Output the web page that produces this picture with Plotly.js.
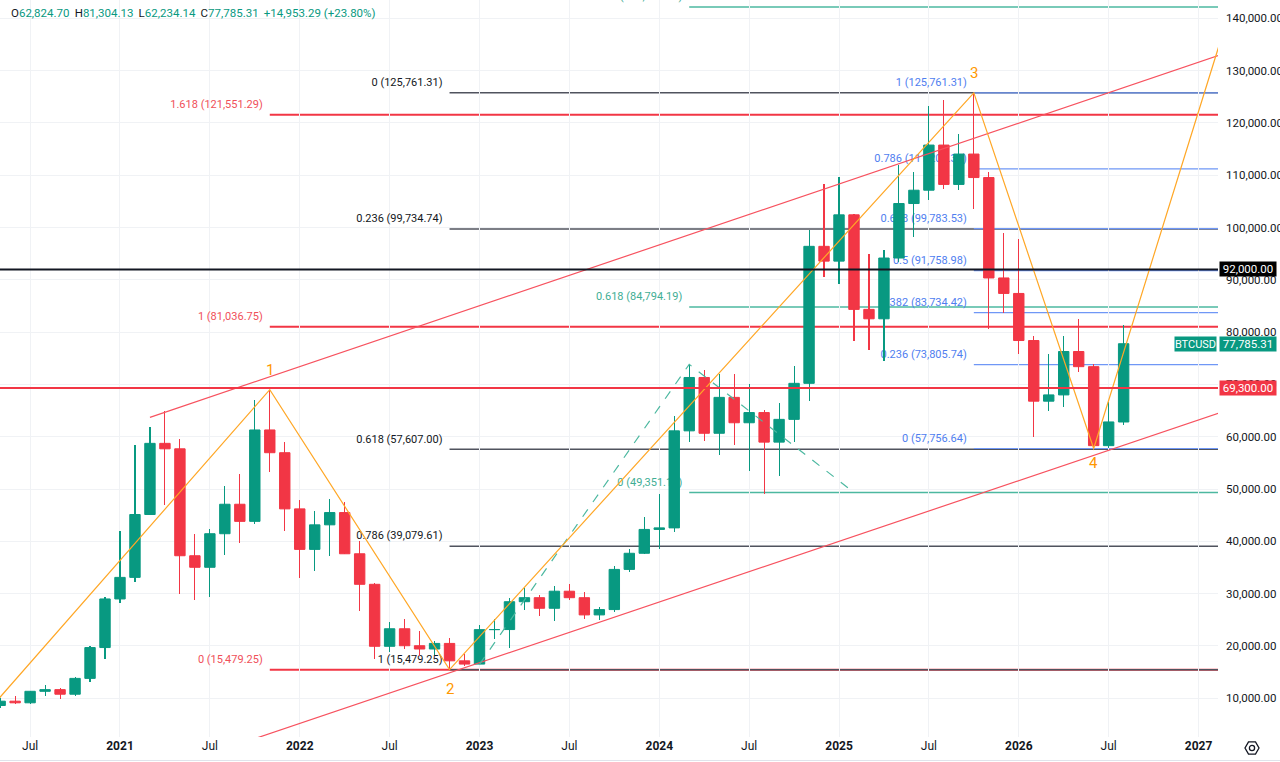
<!DOCTYPE html>
<html><head><meta charset="utf-8">
<script src="https://cdn.plot.ly/plotly-3.0.1.min.js"></script>
<style>html,body{margin:0;padding:0;background:#fff}#chart{width:1280px;height:762px}</style>
</head><body><div id="chart"></div>
<script>
// ---------- data (monthly BTCUSD candles) ----------
const months = [
 "2020-05","2020-06","2020-07","2020-08","2020-09","2020-10","2020-11","2020-12",
 "2021-01","2021-02","2021-03","2021-04","2021-05","2021-06","2021-07","2021-08","2021-09","2021-10","2021-11","2021-12",
 "2022-01","2022-02","2022-03","2022-04","2022-05","2022-06","2022-07","2022-08","2022-09","2022-10","2022-11","2022-12",
 "2023-01","2023-02","2023-03","2023-04","2023-05","2023-06","2023-07","2023-08","2023-09","2023-10","2023-11","2023-12",
 "2024-01","2024-02","2024-03","2024-04","2024-05","2024-06","2024-07","2024-08","2024-09","2024-10","2024-11","2024-12",
 "2025-01","2025-02","2025-03","2025-04","2025-05","2025-06","2025-07","2025-08","2025-09","2025-10","2025-11","2025-12",
 "2026-01","2026-02","2026-03","2026-04","2026-05","2026-06","2026-07","2026-08"];
const openP = [
 8624,9448,9138,11335,11655,10778,13805,19700,
 28990,33114,45137,58740,57694,37254,35045,41462,47100,43824,61300,56950,
 46210,38466,43160,45510,37630,31792,19942,23296,20050,19422,20490,17164,
 16542,23125,23141,28465,29233,27210,30472,29232,25941,26963,34640,37723,
 42284,42580,61130,71333,60666,67530,62678,64626,58974,63327,70215,96407,
 93576,102429,84350,82550,94172,104591,107135,115765,108236,114048,109556,90360,
 87400,78400,66800,68000,76300,73400,58300,62824.70];
const highP = [
 10067,10380,11444,12468,12050,14100,19944,29300,
 41950,58352,61788,64854,59600,41330,42448,50500,52920,67000,69000,59053,
 47990,45821,48190,47444,40023,31980,24668,25211,22799,20988,21480,18388,
 23960,25250,29190,31000,29820,31431,31804,30244,27483,35198,38450,44700,
 48970,64000,73835,72797,71979,71997,70079,65100,66500,73620,99588,108353,
 109588,102500,95000,95758,111980,110530,123218,124474,117900,125761.31,110600,99000,
 97750,79300,75800,79300,82600,73900,66700,81304.13];
const lowP = [
 8117,8833,8975,10525,9875,10374,13195,17572,
 28130,32296,44962,47044,30000,28805,29278,37332,39600,43283,53256,42000,
 32917,34322,37155,37578,26700,17567,18782,19520,18125,18190,15479.25,16256,
 16499,21351,19549,26942,25811,24800,28861,25166,24900,26538,34098,37615,
 38555,41884,59005,59120,56552,58402,53485,49000,52550,58946,66800,90500,
 89256,78258,76606,74434,93346,98200,105271,107350,107255,103528,80600,83600,
 75800,60000,64900,65600,72300,57756.64,57900,62234.14];
const closeP = [
 9448,9138,11335,11655,10778,13805,19700,28990,
 33114,45137,58740,57694,37254,35045,41462,47100,43824,61300,56950,46210,
 38466,43160,45510,37630,31792,19942,23296,20050,19422,20490,17164,16542,
 23125,23141,28465,29233,27210,30472,29232,25941,26963,34640,37723,42284,
 42580,61130,71333,60666,67530,62678,64626,58974,63327,70215,96407,93576,
 102429,84350,82550,94172,104591,107135,115765,108236,114048,109556,90360,87400,
 78400,66800,68000,76300,73400,58300,62832.02,77785.31];

// x-axis ticks
const tickMonths = ["2020-07","2021-01","2021-07","2022-01","2022-07","2023-01","2023-07","2024-01","2024-07","2025-01","2025-07","2026-01","2026-07","2027-01"];
const tickLabels = ["Jul","2021","Jul","2022","Jul","2023","Jul","2024","Jul","2025","Jul","2026","Jul","2027"];
const yTicks = [10000,20000,30000,40000,50000,60000,70000,80000,90000,100000,110000,120000,130000,140000];

// Fibonacci drawings (start month, levels, prices)
const redFibStart = "2021-11";
const redFibLevels = ["0","1","1.618"];
const redFibPrices = [15479.25, 81036.75, 121551.29];
const blackFibStart = "2022-11";
const blackFibLevels = ["0","0.236","0.618","0.786","1"];
const blackFibPrices = [125761.31, 99734.74, 57607.00, 39079.61, 15479.25];
const blueFibStart = "2025-10";
const blueFibLevels = ["1","0.786","0.618","0.5","0.382","0.236","0"];
const blueFibPrices = [125761.31, 111208.31, 99783.53, 91758.98, 83734.42, 73805.74, 57756.64];
const tealFibStart = "2024-03";
const tealFibLevels = ["1.618","0.618","0"];
const tealFibPrices = [142145.39, 84794.19, 49351.15];

// horizontal price lines
const hLinePrices = [69300, 92000];

// Elliott wave path
const waveMonths = ["2020-03","2021-11","2022-11","2025-10","2026-06","2027-03"];
const wavePrices = [3700, 69000, 15479.25, 125761.31, 57756.64, 140600];
const waveLabels = ["","1","2","3","4",""];

// parallel channel
const chanUpperMonths = ["2021-03","2027-03"];
const chanUpperPrices = [63700, 133540];
const chanLowerMonths = ["2021-10","2027-03"];
const chanLowerPrices = [2290, 65150];

// trend-based extension anchor path (dashed)
const extMonths = ["2023-01","2024-03","2025-02"];
const extPrices = [16499, 73850, 49351.15];

// ---------- helpers ----------
const idx = m => { const p = m.split('-').map(Number); return (p[0]-2021)*12 + (p[1]-1); };
const fmt = v => v.toLocaleString('en-US',{minimumFractionDigits:2,maximumFractionDigits:2});
const UP = '#089981', DN = '#f23645';
const xRange = [-8.01, 73.3];
const yRange = [2600, 143500];
const plotW = 1218, plotH = 737;
const pxPerMonth = plotW/(xRange[1]-xRange[0]);
const pxPerUSD = plotH/(yRange[1]-yRange[0]);
const FONT = 'Roboto, "Open Sans", sans-serif';

const xs = months.map(idx);
const shapes = [];
const traces = [];

function fibSet(start, levels, prices, lineColor, lineW, textColor){
  const x0 = idx(start);
  prices.forEach(p => {
    shapes.push({type:'line', xref:'x', yref:'y', x0:x0, x1:xRange[1]+2, y0:p, y1:p,
      line:{color:lineColor, width:lineW}, layer:'below'});
  });
  traces.push({type:'scatter', mode:'text', xaxis:'x', yaxis:'y', hoverinfo:'skip',
    x: prices.map(()=> x0 - 7/pxPerMonth),
    y: prices.map(p => p + 4/pxPerUSD),
    text: levels.map((l,i)=> l + ' (' + fmt(prices[i]) + ')'),
    textposition:'top left', cliponaxis:true,
    textfont:{family:FONT, size:11, color:textColor}, showlegend:false});
}
fibSet(redFibStart, redFibLevels, redFibPrices, '#f23645', 2, '#f0505a');
fibSet(blackFibStart, blackFibLevels, blackFibPrices, '#50535e', 1.5, '#131722');
fibSet(blueFibStart, blueFibLevels, blueFibPrices, '#6f97f6', 1.2, '#4f7ef0');
fibSet(tealFibStart, tealFibLevels, tealFibPrices, '#4cb8a0', 1.5, '#3fae95');

// candles (wicks + bodies as bars) on an overlaid subplot so they sit above the fib labels
function candleSide(isUp, color){
  const sel = xs.map((_,i)=> isUp ? closeP[i] >= openP[i] : closeP[i] < openP[i]);
  const X = xs.filter((_,i)=>sel[i]);
  const pick = arr => arr.filter((_,i)=>sel[i]);
  const O = pick(openP), H = pick(highP), L = pick(lowP), C = pick(closeP);
  traces.push({type:'bar', xaxis:'x2', yaxis:'y2', x:X, base:L, y:H.map((h,i)=>h-L[i]),
    width:1.1/pxPerMonth, marker:{color:color, line:{width:0}}, hoverinfo:'skip', showlegend:false});
  traces.push({type:'bar', xaxis:'x2', yaxis:'y2', x:X, base:O.map((o,i)=>Math.min(o,C[i])),
    y:O.map((o,i)=>Math.abs(C[i]-o)), width:10.4/pxPerMonth,
    marker:{color:color, line:{color:color, width:1}}, hoverinfo:'skip', showlegend:false});
}
candleSide(true, UP);
candleSide(false, DN);

// drawings above candles
const pathOf = (ms, ps) => ms.map((m,i)=> (i?'L':'M') + idx(m) + ',' + ps[i]).join(' ');
shapes.push({type:'path', xref:'x', yref:'y', path: pathOf(chanUpperMonths, chanUpperPrices), line:{color:'#f7525f', width:1.2}, layer:'above'});
shapes.push({type:'path', xref:'x', yref:'y', path: pathOf(chanLowerMonths, chanLowerPrices), line:{color:'#f7525f', width:1.2}, layer:'above'});
shapes.push({type:'path', xref:'x', yref:'y', path: pathOf(extMonths, extPrices), line:{color:'#4cb8a0', width:1.2, dash:'dash'}, layer:'above'});
shapes.push({type:'path', xref:'x', yref:'y', path: pathOf(waveMonths, wavePrices), line:{color:'#ffa726', width:1.2}, layer:'above'});
shapes.push({type:'line', xref:'paper', yref:'y', x0:0, x1:1, y0:hLinePrices[0], y1:hLinePrices[0], line:{color:'#f23645', width:2}, layer:'above'});
shapes.push({type:'line', xref:'paper', yref:'y', x0:0, x1:1, y0:hLinePrices[1], y1:hLinePrices[1], line:{color:'#131722', width:2}, layer:'above'});

// bottom border line & settings icon
const px2paperX = px => px/plotW, px2paperY = py => (plotH-py)/plotH;
shapes.push({type:'line', xref:'paper', yref:'paper', x0:0, x1:px2paperX(1280), y0:px2paperY(760.5), y1:px2paperY(760.5), line:{color:'#e0e3eb', width:1}});
(function(){
  const cx=1252, cy=748, r=7; let d='';
  for(let k=0;k<6;k++){ const a=Math.PI/3*k; d += (k?'L':'M') + px2paperX(cx+r*Math.cos(a)) + ',' + px2paperY(cy+r*Math.sin(a)) + ' '; }
  shapes.push({type:'path', xref:'paper', yref:'paper', path:d+'Z', line:{color:'#131722', width:1.3}});
  shapes.push({type:'circle', xref:'paper', yref:'paper', x0:px2paperX(cx-2.6), x1:px2paperX(cx+2.6), y0:px2paperY(cy+2.6), y1:px2paperY(cy-2.6), line:{color:'#131722', width:1.3}});
})();

// annotations
const annotations = [];
waveLabels.forEach((t,i)=>{
  if(!t) return;
  const up = (t==='1'||t==='3');
  annotations.push({xref:'x', yref:'y', x:idx(waveMonths[i]), y:wavePrices[i], text:t, showarrow:false,
    yshift: up ? 20 : (t==='2' ? -19 : -15), font:{family:FONT, size:15, color:'#ff9800'}});
});
const last = closeP.length-1;
const chg = closeP[last]-closeP[last-1];
const pct = chg/closeP[last-1]*100;
const g = s => "<span style='color:"+UP+"'>"+s+"</span>";
const sp = ' \u2009';
annotations.push({xref:'paper', yref:'paper', x:0, y:1, xanchor:'left', yanchor:'middle', xshift:9, yshift:-13, showarrow:false,
  text: 'O'+g(fmt(openP[last]))+sp+'H'+g(fmt(highP[last]))+sp+'L'+g(fmt(lowP[last]))+sp+'C'+g(fmt(closeP[last]))+sp+g('+'+fmt(chg)+' (+'+pct.toFixed(2)+'%)'),
  font:{family:FONT, size:11.5, color:'#131722'}});
function priceBox(p, bg){
  annotations.push({xref:'paper', yref:'y', x:1, y:p, xanchor:'left', yanchor:'middle', xshift:1, showarrow:false,
    text:fmt(p), bgcolor:bg, width:56, height:14, borderpad:0, font:{family:FONT, size:11.5, color:'#ffffff'}});
}
priceBox(hLinePrices[1], '#000000');
priceBox(hLinePrices[0], DN);
priceBox(closeP[last], UP);
annotations.push({xref:'paper', yref:'y', x:1, y:closeP[last], xanchor:'right', yanchor:'middle', xshift:-1, showarrow:false,
  text:'BTCUSD', bgcolor:UP, width:41, height:14, borderpad:0, font:{family:FONT, size:11, color:'#ffffff'}});

const layout = {
  width:1280, height:762, margin:{l:0, r:62, t:0, b:25},
  paper_bgcolor:'#ffffff', plot_bgcolor:'#ffffff', showlegend:false, dragmode:false,
  barmode:'overlay', bargap:0,
  font:{family:FONT, color:'#131722'},
  xaxis:{range:xRange, tickmode:'array', tickvals:tickMonths.map(idx),
    ticktext:tickLabels.map(t => t==='Jul' ? t : '<b>'+t+'</b>'),
    showgrid:true, gridcolor:'#f0f2f5', gridwidth:1, zeroline:false, showline:false, ticks:'',
    tickfont:{family:FONT, size:12, color:'#131722'}, fixedrange:true},
  yaxis:{range:yRange, side:'right', tickmode:'array', tickvals:yTicks, tickformat:',.2f',
    showgrid:true, gridcolor:'#f0f2f5', gridwidth:1, zeroline:false, showline:false, ticks:'',
    ticklabelstandoff:7, tickfont:{family:FONT, size:11.5, color:'#131722'}, fixedrange:true},
  xaxis2:{overlaying:'x', range:xRange, visible:false, fixedrange:true},
  yaxis2:{overlaying:'y', range:yRange, visible:false, side:'right', fixedrange:true},
  shapes:shapes, annotations:annotations
};
Plotly.newPlot('chart', traces, layout, {displayModeBar:false, staticPlot:true});
</script>
</body></html>
